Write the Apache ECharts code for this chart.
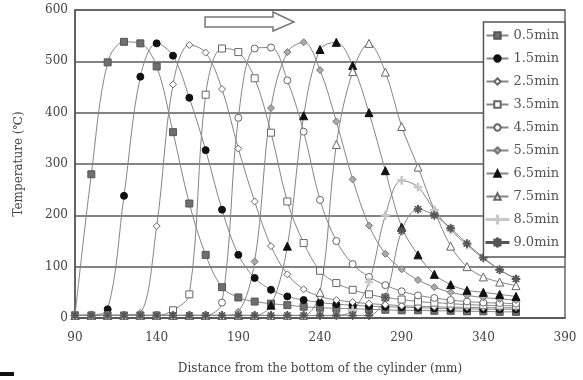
<!DOCTYPE html>
<html>
<head>
<meta charset="utf-8">
<script src="https://cdn.jsdelivr.net/npm/echarts@6/dist/echarts.min.js"></script>
<style>html,body{margin:0;padding:0;background:#fff;}#c{width:583px;height:380px;}</style>
</head>
<body>
<div id="c"></div>
<script>
const distances = [90,100,110,120,130,140,150,160,170,180,190,200,210,220,230,240,250,260,270,280,290,300,310,320,330,340,350,360];
const seriesNames = ['0.5min','1.5min','2.5min','3.5min','4.5min','5.5min','6.5min','7.5min','8.5min','9.0min'];
const t05 = [5,280,498,538,535,490,362,223,123,60,40,32,28,25,22,20,19,18,17,16,15,15,14,14,13,13,12,12];
const t15 = [5,6,17,238,470,535,511,429,327,211,123,78,55,42,35,30,27,25,23,22,21,20,19,18,18,17,17,17];
const t25 = [5,5,5,6,10,179,455,532,517,446,330,227,140,85,56,42,35,31,28,26,24,23,22,21,21,20,20,20];
const t35 = [5,5,5,5,5,5,15,46,435,525,518,467,361,227,146,92,68,55,46,40,36,32,30,28,26,25,24,24];
const t45 = [5,5,5,5,5,5,5,5,5,30,390,525,527,463,363,230,150,105,80,64,52,44,39,35,32,30,29,28];
const t55 = [5,5,5,5,5,5,5,5,5,5,12,110,409,518,537,483,383,270,180,125,95,74,60,50,44,40,37,35];
const t65 = [5,5,5,5,5,5,5,5,5,5,5,5,25,140,394,523,537,492,400,287,177,123,85,65,54,50,46,42];
const t75 = [5,5,5,5,5,5,5,5,5,5,5,5,5,5,5,50,338,480,535,479,373,294,210,140,100,80,70,63];
const t85 = [5,5,5,5,5,5,5,5,5,5,5,5,5,5,5,5,5,15,70,200,268,255,210,172,142,116,94,76];
const t90 = [5,5,5,5,5,5,5,5,5,5,5,5,5,5,5,5,5,5,5,40,170,212,200,175,145,118,94,76];
const yTicks = [0,100,200,300,400,500,600];
const xTicks = [90,140,190,240,290,340,390];

const allValues = [t05,t15,t25,t35,t45,t55,t65,t75,t85,t90];
const plusPath = 'path://M4,0h2v4h4v2h-4v4h-2v-4h-4v-2h4z';
const starPath = 'path://M4.4,0h1.2v3.6l2.6,-2.6l0.8,0.8l-2.6,2.6h3.6v1.2h-3.6l2.6,2.6l-0.8,0.8l-2.6,-2.6v3.6h-1.2v-3.6l-2.6,2.6l-0.8,-0.8l2.6,-2.6h-3.6v-1.2h3.6l-2.6,-2.6l0.8,-0.8l2.6,2.6z';
const plusLegend = 'path://M10.4,0L11.6,0L11.6,3.4L15,3.4L15,4.6L11.6,4.6L11.6,8L10.4,8L10.4,4.6L7,4.6L7,3.4L10.4,3.4Z M0,3.6L22,3.6L22,4.4L0,4.4Z';
const starLegend = 'path://M10.52,0L11.48,0L11.48,2.88L13.56,0.8L14.2,1.44L12.12,3.52L15,3.52L15,4.48L12.12,4.48L14.2,6.56L13.56,7.2L11.48,5.12L11.48,8L10.52,8L10.52,5.12L8.44,7.2L7.8,6.56L9.88,4.48L7,4.48L7,3.52L9.88,3.52L7.8,1.44L8.44,0.8L10.52,2.88Z M0,3.6L22,3.6L22,4.4L0,4.4Z';
const styles = [
  {symbol:'rect', size:7, fill:'#6e6e6e', border:'#555'},
  {symbol:'circle', size:7, fill:'#111', border:'#111'},
  {symbol:'diamond', size:7, fill:'#fff', border:'#666'},
  {symbol:'rect', size:7, fill:'#fff', border:'#666'},
  {symbol:'circle', size:7, fill:'#fff', border:'#666'},
  {symbol:'diamond', size:7, fill:'#aaa', border:'#777'},
  {symbol:'triangle', size:8, fill:'#111', border:'#111'},
  {symbol:'triangle', size:8, fill:'#fff', border:'#666'},
  {symbol:plusPath, size:8, fill:'#c8c8c8', border:'#c8c8c8', legend:plusLegend},
  {symbol:starPath, size:8, fill:'#555', border:'#555', legend:starLegend}
];
const font = 'DejaVu Serif';

const series = seriesNames.map((name, i) => ({
  name: name,
  type: 'line',
  smooth: 0.35,
  data: distances.map((d, j) => [d, allValues[i][j]]),
  symbol: styles[i].symbol,
  symbolSize: styles[i].size,
  showSymbol: true,
  lineStyle: {color:'#858585', width:1},
  itemStyle: {color: styles[i].fill, borderColor: styles[i].border, borderWidth: 1},
  emphasis: {disabled: true},
  z: 3
}));

const chart = echarts.init(document.getElementById('c'), null, {renderer:'canvas'});
chart.setOption({
  animation: false,
  backgroundColor: '#fff',
  grid: {left:75, right:18, top:10, bottom:59, show:true, borderColor:'#6a6a6a', borderWidth:1.5, backgroundColor:'transparent'},
  xAxis: {
    type:'value', min: xTicks[0], max: xTicks[xTicks.length-1], interval: 50,
    axisLine:{show:true, lineStyle:{color:'#555', width:1.5}},
    axisTick:{show:false},
    splitLine:{show:false},
    axisLabel:{color:'#444', fontFamily:font, fontSize:12, margin:14},
    name:'Distance from the bottom of the cylinder (mm)', nameLocation:'middle', nameGap:45,
    nameTextStyle:{color:'#444', fontFamily:font, fontSize:12}
  },
  yAxis: {
    type:'value', min: yTicks[0], max: yTicks[yTicks.length-1], interval: 100,
    axisLine:{show:true, lineStyle:{color:'#555', width:1.5}},
    axisTick:{show:false},
    splitLine:{show:true, lineStyle:{color:'#5a5a5a', width:1.5}},
    axisLabel:{color:'#444', fontFamily:font, fontSize:12, margin:7},
    name:'Temperature (℃)', nameLocation:'middle', nameGap:50,
    nameTextStyle:{color:'#444', fontFamily:font, fontSize:12}
  },
  legend: {
    data: seriesNames.map((n, i) => styles[i].legend ? {name: n, icon: styles[i].legend} : {name: n}),
    orient:'vertical', right:18, top:22,
    backgroundColor:'#fff', borderColor:'#555', borderWidth:1.5,
    padding:[7,6,8,2],
    itemWidth:22, itemHeight:8, itemGap:10,
    textStyle:{color:'#555', fontFamily:font, fontSize:13}
  },
  graphic: [
    {type:'polygon', shape:{points:[[205,17],[273,17],[273,12],[294,22],[273,31],[273,27],[205,27]]},
     style:{fill:'#fff', stroke:'#777', lineWidth:1.5}, z:10},
    {type:'rect', shape:{x:0, y:372, width:14, height:4}, style:{fill:'#111'}}
  ],
  series: series
});
</script>
</body>
</html>
